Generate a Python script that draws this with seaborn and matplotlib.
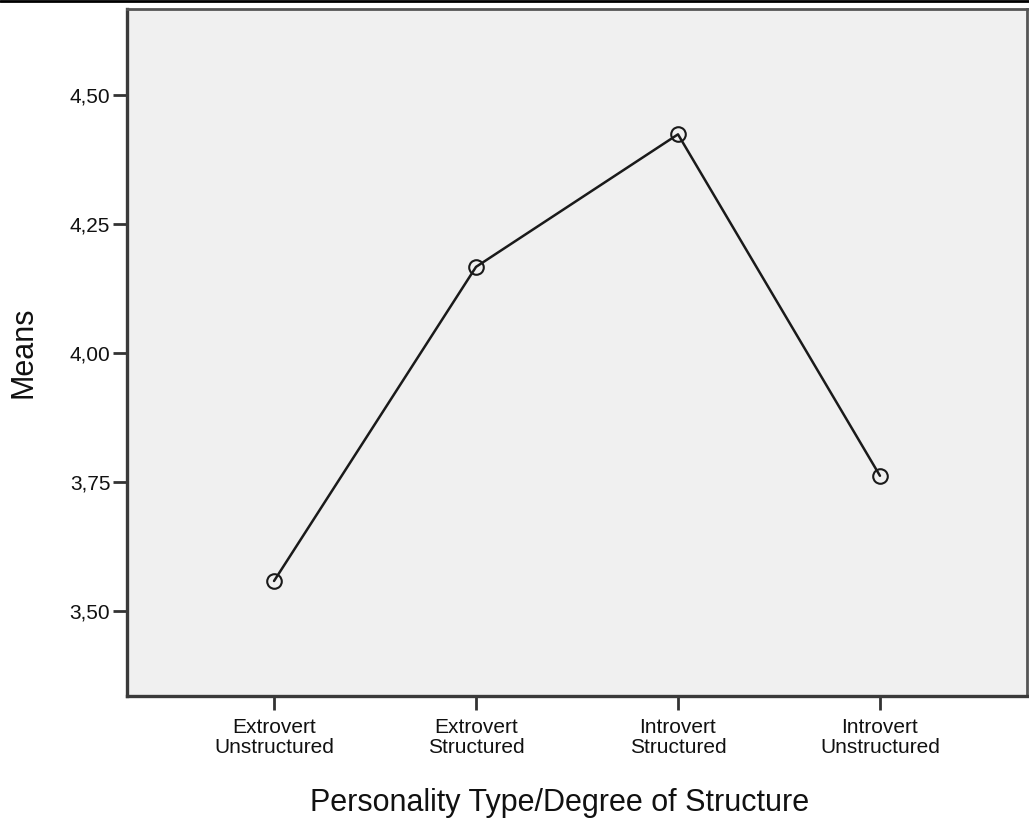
import matplotlib
matplotlib.use('Agg')
import matplotlib.pyplot as plt
import seaborn as sns
import pandas as pd
from matplotlib.lines import Line2D

categories = ['Extrovert\nUnstructured', 'Extrovert\nStructured', 'Introvert\nStructured', 'Introvert\nUnstructured']
means = [3.558, 4.167, 4.424, 3.762]
y_ticks = [3.50, 3.75, 4.00, 4.25, 4.50]
y_tick_labels = ['3,50', '3,75', '4,00', '4,25', '4,50']

df = pd.DataFrame({'group': categories, 'mean': means})

sns.set_style('white')
plt.rcParams['font.family'] = ['Liberation Sans', 'DejaVu Sans']

fig = plt.figure(figsize=(10.29, 8.23), dpi=100)
ax = fig.add_axes([127 / 1029, 1 - 696 / 823, 900 / 1029, 687 / 823])
ax.set_facecolor('#F0F0F0')

sns.lineplot(data=df, x='group', y='mean', sort=False, ax=ax, color='#1a1a1a', linewidth=1.8,
             marker='o', markersize=10.5, markerfacecolor='none', markeredgecolor='#1a1a1a',
             markeredgewidth=1.5)

ax.set_xlim(-0.728, 3.728)
ax.set_ylim(3.335, 4.667)
ax.set_yticks(y_ticks)
ax.set_yticklabels(y_tick_labels)
ax.tick_params(axis='both', direction='out', length=10, width=2, color='#333333',
               labelsize=15, left=True, bottom=True, labelcolor='#111111')
ax.tick_params(axis='x', pad=6)
ax.tick_params(axis='y', pad=2)
for lab in ax.get_xticklabels():
    lab.set_linespacing(1.05)
for side in ['left', 'bottom']:
    ax.spines[side].set_linewidth(2.4)
    ax.spines[side].set_color('#3a3a3a')
for side in ['top', 'right']:
    ax.spines[side].set_linewidth(2.0)
    ax.spines[side].set_color('#555555')

ax.set_xlabel('Personality Type/Degree of Structure', fontsize=22, color='#111111')
ax.set_ylabel('Means', fontsize=22, color='#111111')
ax.xaxis.set_label_coords((560 - 127) / 900, (696 - 788) / 687)
ax.yaxis.set_label_coords((38 - 127) / 900, 0.5)

fig.add_artist(Line2D([0, 1], [0.999, 0.999], color='black', linewidth=2, transform=fig.transFigure))

plt.savefig('out.png', dpi=100)
plt.close()
